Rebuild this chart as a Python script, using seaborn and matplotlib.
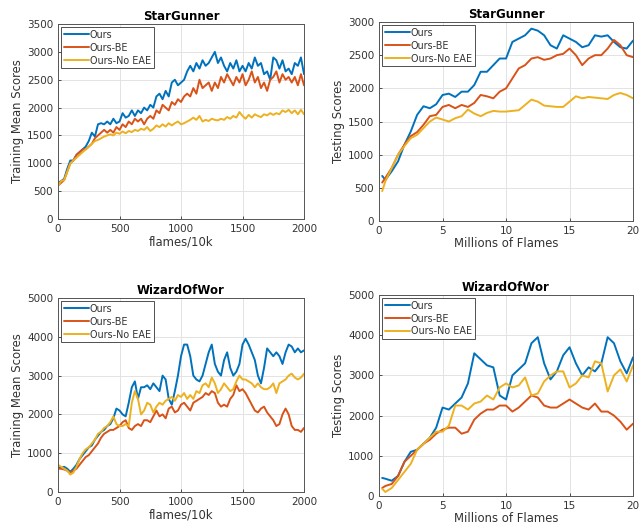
import numpy as np
import pandas as pd
import matplotlib
matplotlib.use("Agg")
import matplotlib.pyplot as plt
import seaborn as sns

methods = ["Ours", "Ours-BE", "Ours-No EAE"]
colors = ["#0072BD", "#D95319", "#EDB120"]

# ---- StarGunner training (flames/10k) ----
sg_train_x = list(range(0, 2001, 25))
sg_train_ours = [650, 680, 720, 900, 1050, 1050, 1150, 1200, 1250, 1300, 1400, 1550, 1480, 1700, 1720, 1700,
                 1750, 1700, 1800, 1720, 1750, 1900, 1820, 1850, 1950, 1850, 1950, 1900, 2000, 1950, 2050, 2000,
                 2200, 2250, 2150, 2300, 2200, 2450, 2500, 2400, 2450, 2500, 2650, 2750, 2650, 2800, 2700, 2850,
                 2750, 2800, 2900, 3000, 2800, 2900, 2750, 2650, 2800, 2700, 2850, 2650, 2750, 2650, 2800, 2700,
                 2900, 2750, 2800, 2600, 2650, 2500, 2900, 2850, 2700, 2850, 2650, 2700, 2600, 2800, 2750, 2900, 2600]
sg_train_be = [600, 650, 700, 850, 1000, 1050, 1150, 1200, 1250, 1250, 1300, 1350, 1450, 1500, 1550, 1600,
               1550, 1600, 1550, 1650, 1600, 1700, 1650, 1750, 1700, 1800, 1750, 1800, 1700, 1800, 1850, 1800,
               1950, 1900, 2050, 2000, 1950, 2100, 2050, 2150, 2100, 2200, 2250, 2200, 2350, 2250, 2500, 2350,
               2400, 2450, 2300, 2450, 2350, 2550, 2450, 2600, 2500, 2400, 2550, 2450, 2600, 2400, 2500, 2650,
               2450, 2550, 2350, 2450, 2300, 2500, 2550, 2650, 2450, 2600, 2500, 2550, 2450, 2550, 2400, 2600, 2400]
sg_train_noeae = [600, 680, 700, 850, 1000, 1050, 1100, 1150, 1200, 1250, 1300, 1350, 1400, 1420, 1450, 1480,
                  1500, 1520, 1500, 1550, 1530, 1570, 1540, 1580, 1560, 1600, 1580, 1620, 1600, 1650, 1580, 1620,
                  1680, 1650, 1700, 1660, 1720, 1680, 1720, 1750, 1700, 1720, 1750, 1780, 1820, 1780, 1850, 1750,
                  1780, 1760, 1800, 1780, 1770, 1800, 1780, 1830, 1800, 1850, 1820, 1920, 1850, 1800, 1870, 1820,
                  1880, 1850, 1830, 1880, 1860, 1900, 1870, 1900, 1880, 1950, 1920, 1960, 1900, 1950, 1880, 1960, 1880]

# ---- StarGunner testing (Millions of Flames) ----
sg_test_x = [0.25] + [0.5 * i for i in range(1, 41)]
sg_test_ours = [680, 620, 750, 900, 1150, 1350, 1600, 1730, 1700, 1760, 1900, 1920, 1870, 1950, 1950, 2050,
                2250, 2250, 2350, 2450, 2450, 2700, 2750, 2800, 2900, 2870, 2800, 2650, 2600, 2800, 2750, 2700,
                2620, 2650, 2800, 2780, 2800, 2700, 2620, 2600, 2720]
sg_test_be = [580, 650, 800, 1000, 1150, 1280, 1340, 1450, 1580, 1600, 1720, 1750, 1700, 1750, 1720, 1780,
              1900, 1880, 1850, 1950, 2000, 2150, 2300, 2350, 2450, 2470, 2430, 2450, 2500, 2520, 2600, 2500,
              2350, 2450, 2500, 2500, 2600, 2730, 2650, 2500, 2470]
sg_test_noeae = [450, 600, 800, 1000, 1130, 1250, 1300, 1400, 1500, 1560, 1530, 1500, 1550, 1580, 1680, 1620,
                 1580, 1630, 1660, 1650, 1650, 1660, 1670, 1750, 1830, 1800, 1740, 1730, 1720, 1720, 1800, 1880,
                 1850, 1870, 1860, 1850, 1840, 1900, 1930, 1900, 1850]

# ---- WizardOfWor training ----
ww_train_x = list(range(0, 2001, 25))
ww_train_ours = [650, 620, 650, 600, 520, 600, 700, 850, 950, 1050, 1150, 1200, 1350, 1450, 1550, 1600,
                 1700, 1750, 1900, 2150, 2100, 2000, 1950, 2300, 2700, 2850, 2400, 2700, 2700, 2750, 2650, 2800,
                 2700, 2600, 3000, 2900, 2400, 2250, 2600, 3000, 3500, 3800, 3800, 3500, 3000, 2900, 2850, 3000,
                 3300, 3600, 3800, 3300, 3100, 3000, 3400, 3600, 3200, 3000, 3100, 3300, 3800, 3950, 3800, 3600,
                 3400, 3000, 2800, 3200, 3700, 3600, 3500, 3600, 3500, 3300, 3600, 3800, 3750, 3600, 3700, 3600, 3650]
ww_train_be = [600, 600, 580, 550, 500, 550, 600, 700, 800, 900, 950, 1050, 1150, 1250, 1400, 1500,
               1550, 1600, 1600, 1650, 1700, 1800, 1850, 1650, 1600, 1700, 1750, 1700, 1850, 1850, 1800, 1950,
               2100, 1950, 2000, 1900, 2150, 2200, 2050, 2100, 2250, 2300, 2200, 2100, 2300, 2350, 2400, 2450,
               2550, 2500, 2600, 2550, 2300, 2200, 2250, 2200, 2400, 2500, 2750, 2600, 2650, 2550, 2400, 2250,
               2100, 2050, 2150, 2200, 2050, 1950, 1850, 1700, 1750, 2000, 2150, 2000, 1700, 1600, 1600, 1550, 1650]
ww_train_noeae = [700, 650, 600, 550, 450, 500, 650, 850, 1000, 1100, 1150, 1250, 1350, 1500, 1550, 1650,
                  1700, 1800, 1950, 1750, 1700, 1700, 1750, 1700, 2300, 2600, 2400, 2000, 2100, 2300, 2250, 2050,
                  2200, 2300, 2250, 2350, 2400, 2450, 2350, 2500, 2450, 2550, 2400, 2500, 2400, 2600, 2550, 2750,
                  2800, 2700, 2950, 2800, 2550, 2650, 2800, 2700, 2600, 2650, 2850, 3000, 2900, 2900, 2850, 2800,
                  2700, 2800, 2700, 2650, 2650, 2700, 2800, 2550, 2800, 2850, 2900, 3000, 3050, 2950, 2900, 2950, 3050]

# ---- WizardOfWor testing ----
ww_test_x = [0.25] + [0.5 * i for i in range(1, 41)]
ww_test_ours = [450, 430, 380, 500, 850, 1100, 1150, 1300, 1450, 1700, 2200, 2150, 2300, 2450, 2800, 3550,
                3400, 3250, 3200, 2500, 2400, 3000, 3150, 3300, 3800, 3950, 3300, 2900, 3100, 3500, 3700, 3300,
                3000, 3200, 3100, 3300, 3950, 3800, 3350, 3050, 3450]
ww_test_be = [200, 250, 300, 500, 850, 1000, 1150, 1300, 1400, 1550, 1650, 1700, 1700, 1550, 1600, 1900,
              2050, 2150, 2150, 2250, 2250, 2100, 2200, 2350, 2500, 2450, 2250, 2200, 2200, 2300, 2400, 2300,
              2200, 2150, 2300, 2100, 2100, 2000, 1850, 1650, 1800]
ww_test_noeae = [180, 100, 200, 400, 600, 800, 1150, 1300, 1450, 1600, 1600, 1750, 2250, 2250, 2150, 2300,
                 2350, 2500, 2400, 2700, 2800, 2700, 2750, 2950, 2500, 2550, 2850, 3000, 3100, 3100, 2700, 2800,
                 3000, 2950, 3350, 3300, 2600, 3000, 3150, 2850, 3250]


def make_df(x, series):
    frames = []
    for m, ys in zip(methods, series):
        frames.append(pd.DataFrame({"x": x, "y": ys, "method": m}))
    return pd.concat(frames, ignore_index=True)


panels = [
    ("StarGunner", sg_train_x, [sg_train_ours, sg_train_be, sg_train_noeae], "flames/10k", "Training Mean Scores",
     (0, 2000), [0, 500, 1000, 1500, 2000], (0, 3500), list(range(0, 3501, 500)),
     [0.0905, 0.5852, 0.3838, 0.3693]),
    ("StarGunner", sg_test_x, [sg_test_ours, sg_test_be, sg_test_noeae], "Millions of Flames", "Testing Scores",
     (0, 20), [0, 5, 10, 15, 20], (0, 3000), list(range(0, 3001, 500)),
     [0.5913, 0.5814, 0.3963, 0.3769]),
    ("WizardOfWor", ww_train_x, [ww_train_ours, ww_train_be, ww_train_noeae], "flames/10k", "Training Mean Scores",
     (0, 2000), [0, 500, 1000, 1500, 2000], (0, 5000), list(range(0, 5001, 1000)),
     [0.0905, 0.0682, 0.3838, 0.3674]),
    ("WizardOfWor", ww_test_x, [ww_test_ours, ww_test_be, ww_test_noeae], "Millions of Flames", "Testing Scores",
     (0, 20), [0, 5, 10, 15, 20], (0, 5000), list(range(0, 5001, 1000)),
     [0.5913, 0.0606, 0.3963, 0.3807]),
]

sns.set_theme(style="whitegrid")
plt.rcParams["font.family"] = ["DejaVu Sans"]

fig = plt.figure(figsize=(6.41, 5.28), dpi=100)
fig.patch.set_facecolor("white")

text_col = "#333333"
for title, x, series, xlabel, ylabel, xlim, xticks, ylim, yticks, pos in panels:
    ax = fig.add_axes(pos)
    df = make_df(x, series)
    sns.lineplot(data=df, x="x", y="y", hue="method", hue_order=methods, palette=colors,
                 estimator=None, sort=False, linewidth=1.4, ax=ax)
    ax.set_xlim(*xlim)
    ax.set_ylim(*ylim)
    ax.set_xticks(xticks)
    ax.set_yticks(yticks)
    ax.set_title(title, fontsize=8.5, fontweight="bold", color="black", pad=3)
    ax.set_xlabel(xlabel, fontsize=8.4, color=text_col, labelpad=1)
    ax.set_ylabel(ylabel, fontsize=8.4, color=text_col, labelpad=2)
    ax.tick_params(axis="both", labelsize=7.5, colors=text_col, direction="in", length=2.5, width=0.6, pad=3.5,
                   left=True, bottom=True)
    ax.set_facecolor("white")
    ax.grid(True, color="#e3e3e3", linewidth=0.7)
    for sp in ax.spines.values():
        sp.set_visible(True)
        sp.set_color("#555555")
        sp.set_linewidth(0.7)
    leg = ax.legend(loc="upper left", fontsize=6.9, frameon=True, fancybox=False, framealpha=1,
                    edgecolor="#333333", handlelength=2.6, handletextpad=0.1, borderpad=0.3,
                    labelspacing=0.3, borderaxespad=0.3)
    leg.get_frame().set_linewidth(0.6)
    for t in leg.get_texts():
        t.set_color(text_col)

fig.savefig("out.png", dpi=100, facecolor="white")
